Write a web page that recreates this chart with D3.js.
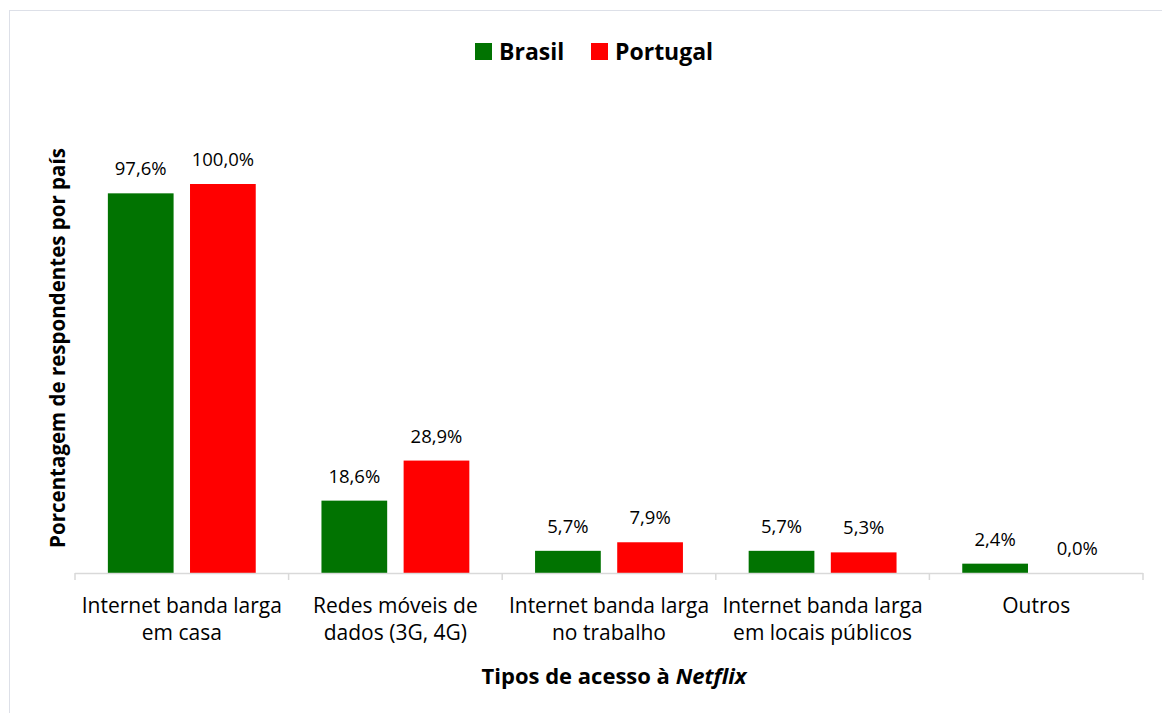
<!DOCTYPE html>
<html>
<head>
<meta charset="utf-8">
<script src="https://cdn.jsdelivr.net/npm/d3@7"></script>
<style>
  body { margin: 0; background: #fff; }
  text { font-family: "Open Sans", "Noto Sans", sans-serif; fill: #000; }
</style>
</head>
<body>
<svg id="chart" width="1162" height="713"></svg>
<script>
const categories = [
  ["Internet banda larga", "em casa"],
  ["Redes móveis de", "dados (3G, 4G)"],
  ["Internet banda larga", "no trabalho"],
  ["Internet banda larga", "em locais públicos"],
  ["Outros"]
]
const seriesNames = ["Brasil", "Portugal"]
const brasil = [97.6, 18.6, 5.7, 5.7, 2.4]
const portugal = [100.0, 28.9, 7.9, 5.3, 0.0]
const colors = ["#017301", "#ff0000"]

const svg = d3.select("#chart")

// outer frame
svg.append("rect")
  .attr("x", 9.5).attr("y", 10.5)
  .attr("width", 1160).attr("height", 720)
  .attr("fill", "none").attr("stroke", "#dde0e8")

const x0 = d3.scaleBand()
  .domain(d3.range(categories.length))
  .range([75, 1143])
  .padding(0)

const x1 = d3.scaleBand()
  .domain(seriesNames)
  .range([0, x0.bandwidth()])
  .paddingInner(0.2)
  .paddingOuter(0.4)

const y = d3.scaleLinear()
  .domain([0, 100])
  .range([573, 184])

const fmt = v => v.toFixed(1).replace(".", ",") + "%"

const rows = categories.map((c, i) => ({i, vals: [brasil[i], portugal[i]]}))

const groups = svg.append("g")
  .selectAll("g")
  .data(rows)
  .enter()
  .append("g")
  .attr("transform", d => `translate(${x0(d.i)},0)`)

groups.selectAll("rect")
  .data(d => d.vals.map((v, k) => ({v, k})))
  .enter()
  .append("rect")
  .attr("x", d => x1(seriesNames[d.k]))
  .attr("width", x1.bandwidth())
  .attr("y", d => y(d.v))
  .attr("height", d => y(0) - y(d.v))
  .attr("fill", d => colors[d.k])

groups.selectAll("text.val")
  .data(d => d.vals.map((v, k) => ({v, k})))
  .enter()
  .append("text")
  .attr("class", "val")
  .attr("x", d => x1(seriesNames[d.k]) + x1.bandwidth() / 2)
  .attr("y", d => y(d.v) - 18)
  .attr("text-anchor", "middle")
  .style("font-size", "18.5px")
  .text(d => fmt(d.v))

// x axis
const axis = svg.append("g")
axis.append("line")
  .attr("x1", 75).attr("x2", 1143)
  .attr("y1", 573.5).attr("y2", 573.5)
  .attr("stroke", "#d9d9d9").attr("stroke-width", 1.5)

const tickPos = d3.range(categories.length + 1).map(i => i < categories.length ? x0(i) : x0.range()[1])
axis.selectAll("line.tick")
  .data(tickPos)
  .enter()
  .append("line")
  .attr("class", "tick")
  .attr("x1", d => d).attr("x2", d => d)
  .attr("y1", 573).attr("y2", 580)
  .attr("stroke", "#d9d9d9").attr("stroke-width", 1.5)

const catText = axis.selectAll("text.cat")
  .data(categories)
  .enter()
  .append("text")
  .attr("class", "cat")
  .attr("text-anchor", "middle")
  .style("font-size", "21px")

catText.selectAll("tspan")
  .data((d, i) => d.map((line, j) => ({line, j, i})))
  .enter()
  .append("tspan")
  .attr("x", d => x0(d.i) + x0.bandwidth() / 2)
  .attr("y", d => 613 + d.j * 27)
  .text(d => d.line)

// axis titles
const xt = svg.append("text")
  .attr("x", 614).attr("y", 684)
  .attr("text-anchor", "middle")
  .style("font-size", "22px")
  .style("font-weight", "bold")
xt.append("tspan").text("Tipos de acesso à ")
xt.append("tspan").style("font-style", "italic").text("Netflix")

svg.append("text")
  .attr("transform", "translate(65,348) rotate(-90)")
  .attr("text-anchor", "middle")
  .style("font-size", "20.5px")
  .style("font-weight", "bold")
  .text("Porcentagem de respondentes por país")

// legend
const legend = svg.append("g")
const legX = [475, 591]
seriesNames.forEach((s, k) => {
  legend.append("rect")
    .attr("x", legX[k]).attr("y", 43)
    .attr("width", 17).attr("height", 17)
    .attr("fill", colors[k])
  legend.append("text")
    .attr("x", legX[k] + 24).attr("y", 60)
    .style("font-size", "23px")
    .style("font-weight", "bold")
    .text(s)
})
</script>
</body>
</html>
